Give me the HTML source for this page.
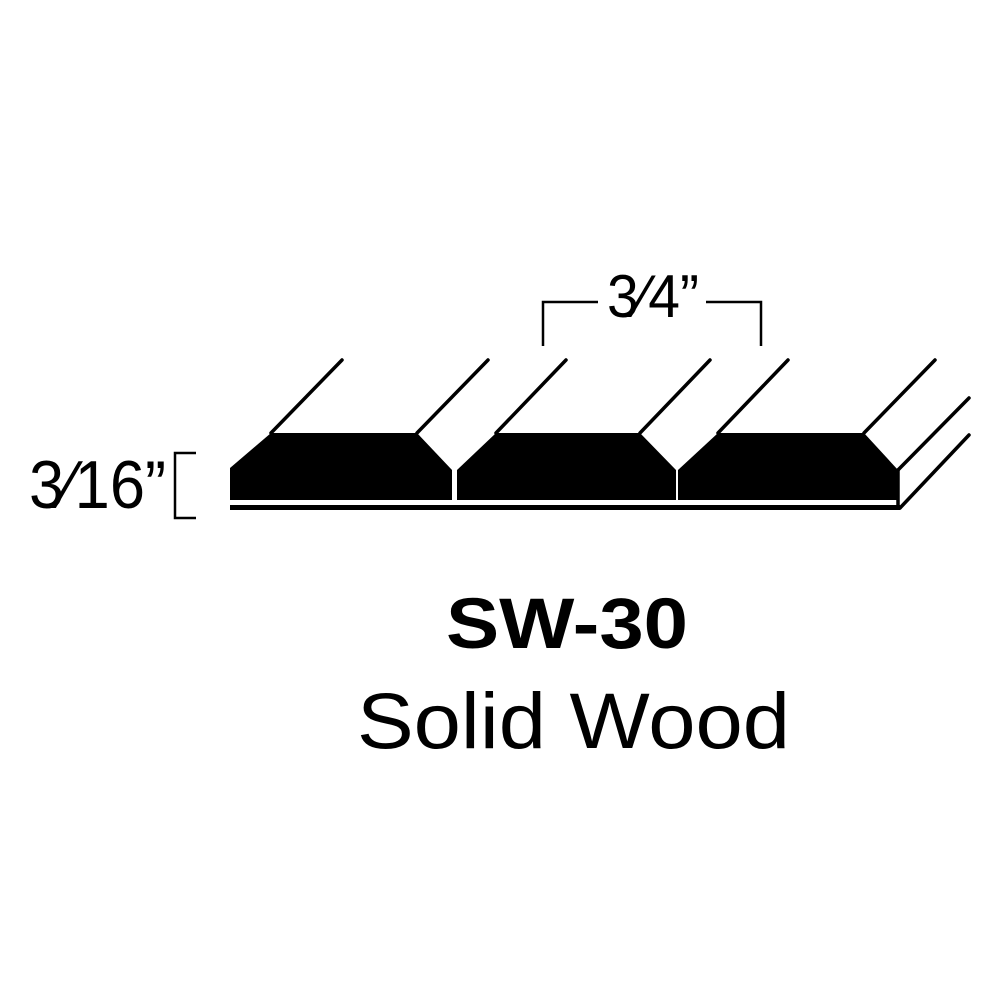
<!DOCTYPE html>
<html><head><style>html,body{margin:0;padding:0;background:#fff;}svg{display:block}</style></head>
<body>
<svg width="1000" height="1000" viewBox="0 0 1000 1000" xmlns="http://www.w3.org/2000/svg">
<rect width="1000" height="1000" fill="#fff"/>
<g fill="#000">
<polygon points="230,468 271,433 417,433 452,470 452,500 230,500"/>
<polygon points="457,470 496,433 640,433 676,470 676,500 457,500"/>
<polygon points="678,470 718,433 864,433 898,470 898,500 678,500"/>
<rect x="230" y="505" width="670" height="5"/>
</g>
<g stroke="#000" stroke-width="3.5" fill="none" stroke-linecap="round">
<line x1="271" y1="433" x2="342" y2="360"/>
<line x1="417" y1="433" x2="488" y2="360"/>
<line x1="496" y1="433" x2="566" y2="360"/>
<line x1="640" y1="433" x2="710" y2="360"/>
<line x1="718" y1="433" x2="788" y2="360"/>
<line x1="864" y1="433" x2="935" y2="360"/>
<line x1="898" y1="470" x2="969" y2="398"/>
<line x1="900" y1="508" x2="969" y2="435"/>
<line x1="898" y1="470" x2="898" y2="508"/>
</g>
<g stroke="#000" stroke-width="2.5" fill="none">
<polyline points="543,346 543,302 598,302"/>
<polyline points="706,302 761,302 761,346"/>
<polyline points="196,453 175,453 175,518 196,518"/>
</g>
<g font-family="'Liberation Sans', sans-serif" fill="#000">
<text x="607" y="317" font-size="60" textLength="92" lengthAdjust="spacingAndGlyphs">3⁄4”</text>
<text x="29" y="508" font-size="68" textLength="137" lengthAdjust="spacingAndGlyphs">3⁄16”</text>
<text x="446" y="648" font-size="71" font-weight="bold" textLength="242" lengthAdjust="spacingAndGlyphs">SW-30</text>
<text x="357" y="748" font-size="79" textLength="433" lengthAdjust="spacingAndGlyphs">Solid Wood</text>
</g>
</svg>
</body></html>
